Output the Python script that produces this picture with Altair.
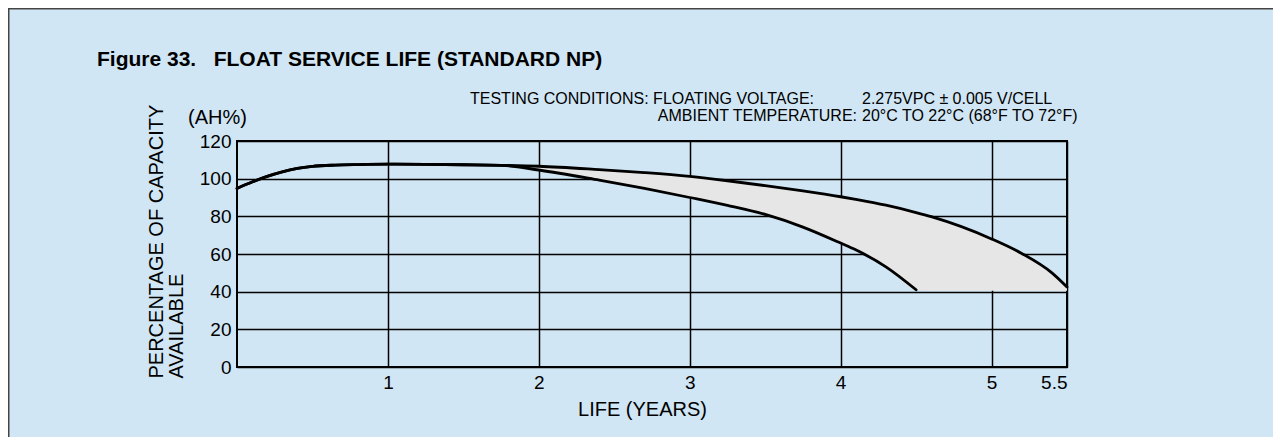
import altair as alt
import pandas as pd

# ---------------- data ----------------
rise_years = [0.0, 0.1, 0.2, 0.3, 0.4, 0.5, 0.65, 0.8, 1.0, 1.25, 1.5]
rise_pct = [94.8, 98.2, 101.2, 103.6, 105.4, 106.5, 107.2, 107.5, 107.7, 107.6, 107.4]

split_years = [1.75, 2.0, 2.4, 2.7, 3.0, 3.25, 3.5, 3.75, 4.0, 4.1, 4.3, 4.5, 4.6, 5.0, 5.2, 5.4, 5.5]
upper_pct = [107.1, 106.6, 104.8, 103.2, 101.2, 98.9, 96.3, 93.5, 90.4, 89.0, 85.9, 82.0, 79.8, 68.0, 60.3, 50.0, 42.5]
lower_pct = [107.1, 104.6, 99.2, 94.8, 90.0, 85.8, 81.0, 74.3, 65.8, 62.2, 53.2, 41.0]
band_floor = 40.5  # flat bottom edge of the shaded band after the short-life curve ends

x_ticks = [1, 2, 3, 4, 5, 5.5]
y_ticks = [0, 20, 40, 60, 80, 100, 120]

NB = "\u00a0"
title_text = "Figure 33." + NB * 3 + "FLOAT SERVICE LIFE (STANDARD NP)"
unit_text = "(AH%)"
cond_line1_a = "TESTING CONDITIONS: FLOATING VOLTAGE:"
cond_line1_b = "2.275VPC \u00b1 0.005 V/CELL"
cond_line2_a = "AMBIENT TEMPERATURE:"
cond_line2_b = "20\u00b0C TO 22\u00b0C (68\u00b0F TO 72\u00b0F)"
y_title = ["PERCENTAGE OF CAPACITY", "AVAILABLE"]
x_title = "LIFE (YEARS)"

# ---------------- tables ----------------
long_df = pd.DataFrame({
    "year": rise_years + split_years,
    "pct": rise_pct + upper_pct,
    "series": "long",
})
short_df = pd.DataFrame({
    "year": rise_years + split_years[:len(lower_pct)],
    "pct": rise_pct + lower_pct,
    "series": "short",
})
lines_df = pd.concat([long_df, short_df], ignore_index=True)

band_lower = lower_pct + [band_floor] * (len(split_years) - len(lower_pct))
band_df = pd.DataFrame({"year": split_years, "upper": upper_pct, "lower": band_lower})

FONT = "Liberation Sans"

xscale = alt.Scale(domain=[0, 5.5], nice=False, zero=False)
yscale = alt.Scale(domain=[0, 120], nice=False)

x_axis = alt.Axis(
    values=x_ticks, labelExpr="format(datum.value, '~g')", title=x_title,
    grid=True, ticks=False, domain=False,
    labelFontSize=19, labelPadding=6, labelColor="black", labelFont=FONT, labelOverlap=False,
    titleFontSize=20, titleFontWeight="normal", titleColor="black", titleFont=FONT,
    titleX=405, titleY=42, titleBaseline="middle",
)
y_axis = alt.Axis(
    values=y_ticks, format="d", title=y_title, grid=True, ticks=False, domain=False,
    labelFontSize=19, labelPadding=6, labelColor="black", labelFont=FONT, labelOverlap=False,
    titleFontSize=20, titleFontWeight="normal", titleColor="black", titleFont=FONT,
    titleAngle=270, titleAlign="left", titleBaseline="top",
    titleX=-91, titleY=237, titleLineHeight=20,
)

band = alt.Chart(band_df).mark_area(color="#e6e6e6", opacity=1, interpolate="monotone").encode(
    x=alt.X("year:Q", scale=xscale, axis=x_axis),
    y=alt.Y("upper:Q", scale=yscale, axis=y_axis),
    y2="lower:Q",
)

lines = alt.Chart(lines_df).mark_line(
    color="black", strokeWidth=2.8, interpolate="monotone", strokeCap="round"
).encode(
    x=alt.X("year:Q", scale=xscale, axis=x_axis),
    y=alt.Y("pct:Q", scale=yscale, axis=y_axis),
    detail="series:N",
)

one = pd.DataFrame({"a": [0]})


def label(text, x, y, size, weight="normal", align="left"):
    return alt.Chart(one).mark_text(
        align=align, baseline="middle", font=FONT, fontSize=size,
        fontWeight=weight, color="black",
    ).encode(x=alt.value(x), y=alt.value(y), text=alt.value(text))


texts = [
    label(title_text, -140, -81, 21, "bold"),
    label(unit_text, -49, -23, 20),
    label(cond_line1_a, 233, -42, 16),
    label(cond_line1_b, 625, -42, 16),
    label(cond_line2_a, 620, -25, 16, align="right"),
    label(cond_line2_b, 625, -25, 16),
]

# thin frame of the figure panel: only its top and left edges are drawn
frame_top = alt.Chart(one).mark_rule(stroke="#444444", strokeWidth=1.5).encode(
    x=alt.value(-229), x2=alt.value(1100), y=alt.value(-132.25),
)
frame_left = alt.Chart(one).mark_rule(stroke="#444444", strokeWidth=1.5).encode(
    x=alt.value(-228.25), y=alt.value(-133), y2=alt.value(400),
)

chart = alt.layer(frame_top, frame_left, band, lines, *texts).properties(
    width=830, height=226,
    autosize=alt.AutoSizeParams(type="none"),
    padding={"left": 229, "top": 133, "right": 206, "bottom": 70},
    background="#d0e6f4",
).configure_view(
    stroke="black", strokeWidth=2,
).configure_axis(
    gridColor="black", gridWidth=1.5, gridOpacity=1,
)

chart.save("out.html", embed_options={"renderer": "svg", "actions": False})
